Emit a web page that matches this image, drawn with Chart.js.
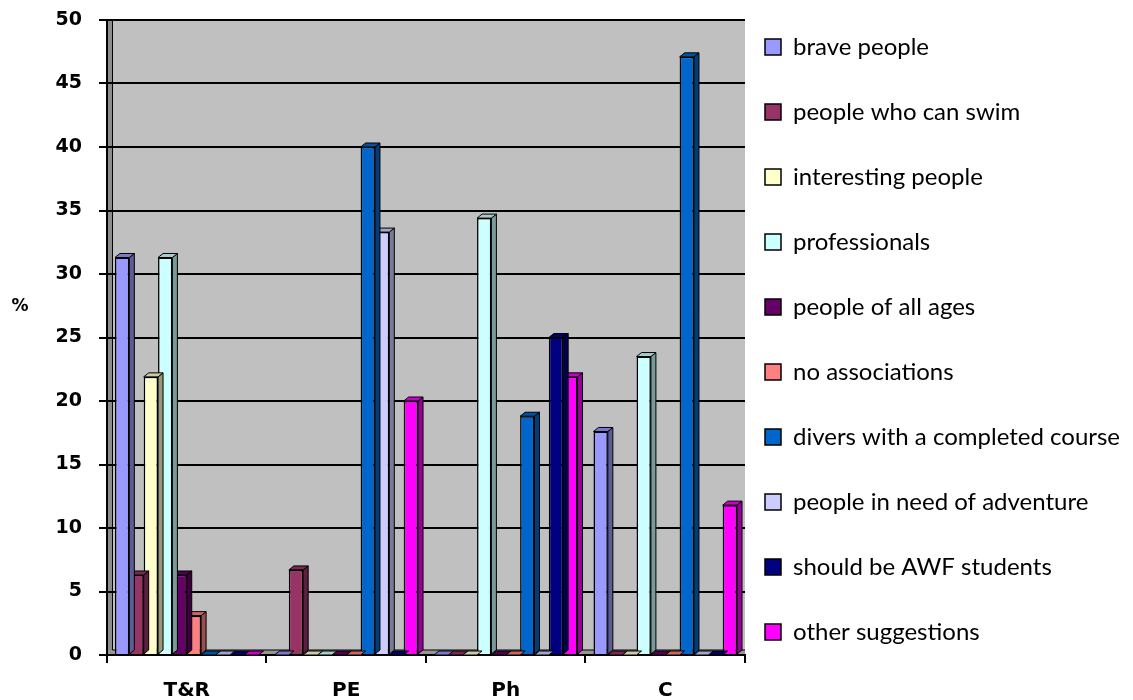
<!DOCTYPE html>
<html>
<head>
<meta charset="utf-8">
<script src="https://cdn.jsdelivr.net/npm/chart.js@4"></script>
<style>
  html, body { margin: 0; padding: 0; background: #fff; }
  #wrap { width: 1133px; height: 700px; position: relative; }
</style>
</head>
<body>
<div id="wrap"><canvas id="chart" width="1133" height="700"></canvas></div>
<script>
// categories and series
const categories = ["T&R", "PE", "Ph", "C"];
const yTicks = [0, 5, 10, 15, 20, 25, 30, 35, 40, 45, 50];

const bravePeople = [31.3, 0, 0, 17.6];
const canSwim = [6.3, 6.7, 0, 0];
const interesting = [21.9, 0, 0, 0];
const professionals = [31.3, 0, 34.4, 23.5];
const allAges = [6.3, 0, 0, 0];
const noAssociations = [3.1, 0, 0, 0];
const diversCourse = [0, 40.0, 18.8, 47.1];
const needAdventure = [0, 33.3, 0, 0];
const awfStudents = [0, 0, 25.0, 0];
const otherSuggestions = [0, 20.0, 21.9, 11.8];

const seriesNames = [
  "brave people", "people who can swim", "interesting people", "professionals",
  "people of all ages", "no associations", "divers with a completed course",
  "people in need of adventure", "should be AWF students", "other suggestions"
];
const seriesValues = [
  bravePeople, canSwim, interesting, professionals, allAges,
  noAssociations, diversCourse, needAdventure, awfStudents, otherSuggestions
];
const seriesColors = [
  "#9999FF", "#993366", "#FFFFCC", "#CCFFFF", "#660066",
  "#FF8080", "#0066CC", "#CCCCFF", "#000080", "#FF00FF"
];

const DEPTH_X = 5, DEPTH_Y = 4;

function shade(hex, f) {
  const n = parseInt(hex.slice(1), 16);
  const r = Math.round(((n >> 16) & 255) * f);
  const g = Math.round(((n >> 8) & 255) * f);
  const b = Math.round((n & 255) * f);
  return `rgb(${r},${g},${b})`;
}

// gray walls behind the bars, plus the "%" axis label
const walls = {
  id: "walls",
  beforeDraw(chart) {
    const { ctx, chartArea: a } = chart;
    ctx.save();
    ctx.fillStyle = "#C0C0C0";
    ctx.fillRect(a.left, a.top, a.right - a.left, a.bottom - a.top);
    ctx.fillStyle = "#8C8C8C";
    ctx.fillRect(a.left, a.top, 5, a.bottom - a.top);
    ctx.fillStyle = "#969696";
    ctx.fillRect(a.left, a.bottom - 5, a.right - a.left, 5);
    ctx.strokeStyle = "#000";
    ctx.lineWidth = 1;
    ctx.beginPath();
    ctx.moveTo(a.left + 5.5, a.top);
    ctx.lineTo(a.left + 5.5, a.bottom - 5);
    ctx.lineTo(a.right, a.bottom - 5);
    ctx.stroke();
    ctx.restore();
  },
  afterDraw(chart) {
    const { ctx, chartArea: a } = chart;
    ctx.save();
    ctx.fillStyle = "#000";
    ctx.font = "bold 17px 'DejaVu Sans'";
    ctx.textAlign = "center";
    ctx.textBaseline = "middle";
    ctx.fillText("%", 20, a.top + (a.bottom - a.top) * 0.452);
    ctx.restore();
  }
};

// side and top faces so the bars look like the 3D original
const bars3d = {
  id: "bars3d",
  afterDatasetDraw(chart, args) {
    const { ctx } = chart;
    const ds = chart.data.datasets[args.index];
    ctx.save();
    ctx.strokeStyle = "#000";
    ctx.lineWidth = 1;
    args.meta.data.forEach((bar) => {
      const { x, y, base, width } = bar.getProps(["x", "y", "base", "width"], true);
      const l = x - width / 2, r = x + width / 2;
      if (base - y > 0.5) {
        ctx.fillStyle = shade(ds.backgroundColor, 0.6);
        ctx.beginPath();
        ctx.moveTo(r, y);
        ctx.lineTo(r + DEPTH_X, y - DEPTH_Y);
        ctx.lineTo(r + DEPTH_X, base - DEPTH_Y);
        ctx.lineTo(r, base);
        ctx.closePath();
        ctx.fill();
        ctx.stroke();
      }
      ctx.fillStyle = shade(ds.backgroundColor, 0.8);
      ctx.beginPath();
      ctx.moveTo(l, y);
      ctx.lineTo(l + DEPTH_X, y - DEPTH_Y);
      ctx.lineTo(r + DEPTH_X, y - DEPTH_Y);
      ctx.lineTo(r, y);
      ctx.closePath();
      ctx.fill();
      ctx.stroke();
    });
    ctx.restore();
  }
};

const ctx = document.getElementById("chart").getContext("2d");
new Chart(ctx, {
  type: "bar",
  data: {
    labels: categories,
    datasets: seriesNames.map((name, i) => ({
      label: name,
      data: seriesValues[i],
      backgroundColor: seriesColors[i],
      borderColor: "#000",
      borderWidth: 1.5,
      categoryPercentage: 0.9,
      barPercentage: 1.0
    }))
  },
  options: {
    responsive: false,
    animation: false,
    layout: { padding: { top: 0, right: 3, left: 0, bottom: 0 } },
    plugins: {
      legend: {
        position: "right",
        maxWidth: 500,
        labels: {
          color: "#000",
          boxWidth: 16,
          boxHeight: 16,
          padding: 20,
          font: { family: "Lato", size: 24, lineHeight: "45px" },
          // one-line arrays so the row height follows the font lineHeight
          generateLabels: (chart) =>
            Chart.defaults.plugins.legend.labels.generateLabels(chart).map((item) => ({ ...item, text: [item.text] }))
        }
      },
      tooltip: { enabled: false }
    },
    scales: {
      x: {
        afterFit: (scale) => { scale.height = 45; },
        grid: { display: true, drawOnChartArea: false, color: "#000", lineWidth: 2, tickLength: 8 },
        border: { color: "#000", width: 2 },
        ticks: { color: "#000", padding: 16, font: { family: "DejaVu Sans", size: 20, weight: "bold" } }
      },
      y: {
        min: 0,
        max: 50,
        afterFit: (scale) => { scale.width = 107; },
        afterBuildTicks: (axis) => { axis.ticks = yTicks.map((v) => ({ value: v })); },
        grid: { color: "#000", lineWidth: 2, tickLength: 8 },
        border: { color: "#000", width: 2 },
        ticks: { color: "#000", padding: 17, font: { family: "DejaVu Sans", size: 19, weight: "bold", lineHeight: "6px" } }
      }
    }
  },
  plugins: [walls, bars3d]
});
</script>
</body>
</html>
